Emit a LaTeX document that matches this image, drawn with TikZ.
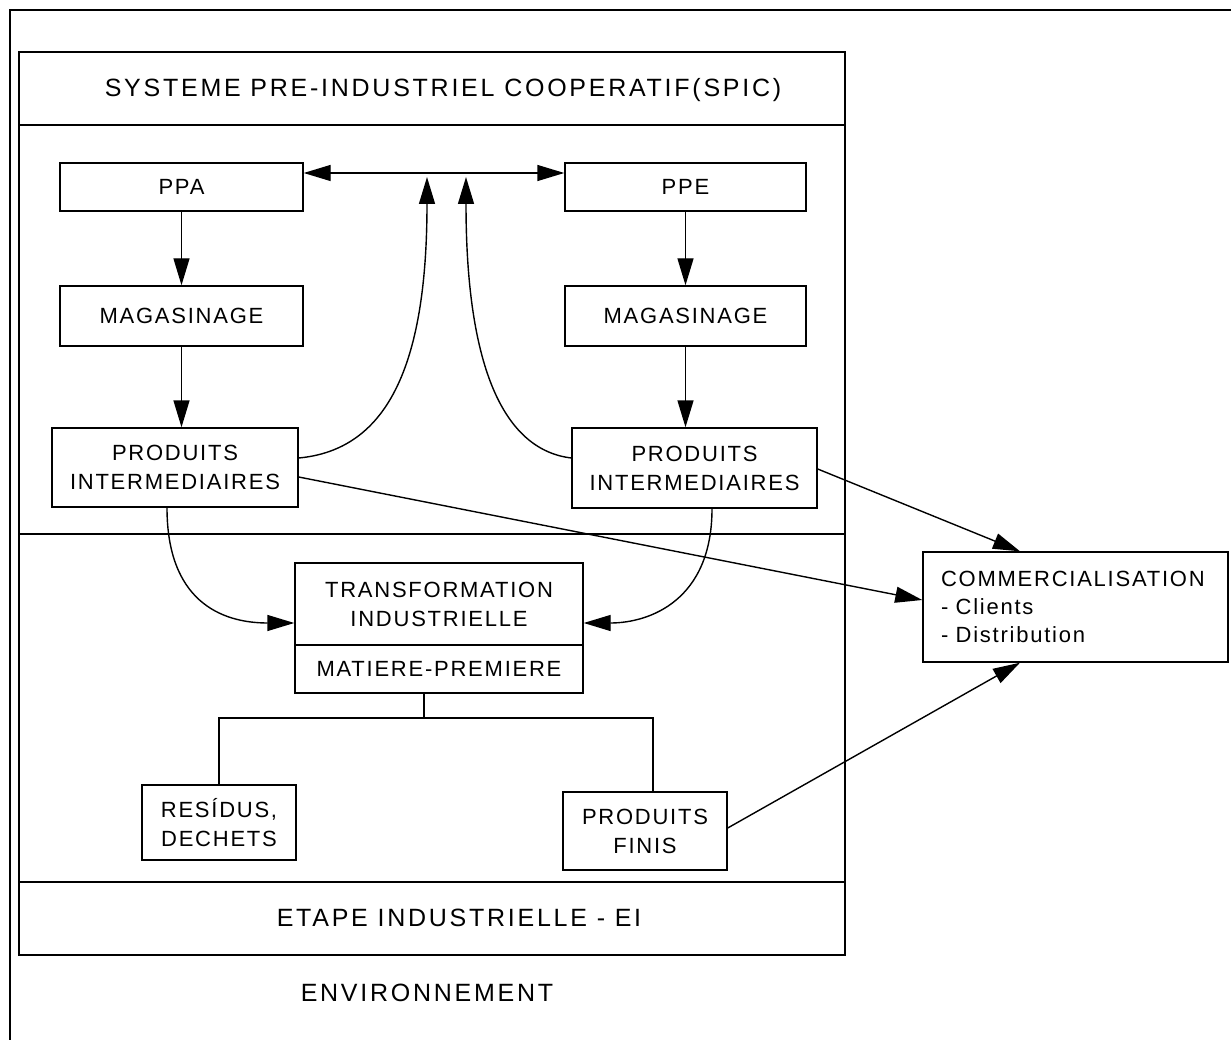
\documentclass[tikz,border=0pt]{standalone}
\usepackage{fontspec}
\setmainfont{Liberation Sans}
\newfontfamily\bodyfont{Liberation Sans}[LetterSpace=8]
\newfontfamily\headfont{Liberation Sans}[LetterSpace=11]
\usetikzlibrary{arrows.meta,calc}
\begin{document}
\begin{tikzpicture}[x=1pt,y=-1pt,
  box/.style={draw,line width=1.4pt,inner sep=0pt,align=center,
    font=\bodyfont\fontsize{22}{29}\selectfont},
  conn/.style={line width=1.4pt,-{Triangle[length=27pt,width=16pt]}},
  plain/.style={line width=1.4pt},
  head/.style={font=\headfont\fontsize{25}{29}\selectfont}]
\useasboundingbox (0,0) rectangle (1231,1040);
% outer frame (environment)
\draw[plain] (10,1045) -- (10,10) -- (1236,10);
% SPIC / EI frame
\draw[plain] (19,52) rectangle (845,955);
\draw[plain] (19,125) -- (845,125);
\draw[plain] (19,534) -- (845,534);
\draw[plain] (19,882) -- (845,882);
% headings
\node[head] (title) at (443,90) {SYSTEME PRE-INDUSTRIEL COOPERATIF(SPIC)};
\node[head] (etape) at (459,918) {ETAPE INDUSTRIELLE - EI};
\node[head] (env) at (427,993) {ENVIRONNEMENT};
% boxes
\node[box,minimum width=243pt,minimum height=48pt] (ppa) at (181.5,187) {PPA};
\node[box,minimum width=241pt,minimum height=48pt] (ppe) at (685.5,187) {PPE};
\node[box,minimum width=243pt,minimum height=60pt] (magL) at (181.5,316) {MAGASINAGE};
\node[box,minimum width=241pt,minimum height=60pt] (magR) at (685.5,316) {MAGASINAGE};
\node[box,minimum width=246pt,minimum height=79pt] (piL) at (175,467.5) {PRODUITS\\INTERMEDIAIRES};
\node[box,minimum width=245pt,minimum height=80pt] (piR) at (694.5,468) {PRODUITS\\INTERMEDIAIRES};
\node[box,minimum width=288pt,minimum height=82pt] (trans) at (439,604) {TRANSFORMATION\\INDUSTRIELLE};
\node[box,minimum width=288pt,minimum height=48pt] (mat) at (439,669) {MATIERE-PREMIERE};
\node[box,minimum width=305pt,minimum height=110pt,text width=269pt,align=left,
  font=\bodyfont\fontsize{22}{28}\selectfont] (comm) at (1075.5,607)
  {COMMERCIALISATION\\- Clients\\- Distribution};
\node[box,minimum width=154pt,minimum height=75pt] (res) at (219,822.5) {RESÍDUS,\\DECHETS};
\node[box,minimum width=164pt,minimum height=78pt] (pf) at (645,831) {PRODUITS\\FINIS};
% coordinates
\coordinate (tipL) at (427,177);
\coordinate (tipR) at (466,177);
\coordinate (jn) at (424,718);
% connectors
\draw[plain,{Triangle[length=27pt,width=16pt]}-{Triangle[length=27pt,width=16pt]}]
  ([yshift=14pt]ppa.east) -- ([yshift=14pt]ppe.west);
\draw[conn] (ppa.south) -- (magL.north);
\draw[conn] (magL.south) -- (magL.south |- piL.north);
\draw[conn] (ppe.south) -- (magR.north);
\draw[conn] (magR.south) -- (magR.south |- piR.north);
\draw[conn] ([yshift=9.5pt]piL.east) .. controls (385,450) and (427,370) .. (tipL);
\draw[conn] ([yshift=10pt]piR.west) .. controls (505,450) and (466,370) .. (tipR);
\draw[conn] ([yshift=-9.5pt]piL.east) -- ([yshift=7pt]comm.west);
\draw[conn] ([yshift=-1pt]piR.east) -- ([xshift=-55.5pt]comm.north);
\draw[conn] ([yshift=3pt]pf.east) -- ([xshift=-55.5pt]comm.south);
\draw[conn] ([xshift=-8pt]piL.south) .. controls (167,600) and (220,623) .. ([yshift=-19pt]trans.west);
\draw[conn] ([xshift=17.5pt]piR.south) .. controls (712,600) and (650,623) .. ([yshift=-19pt]trans.east);
% tree
\draw[plain] (mat.south -| jn) -- (jn);
\draw[plain] (res.north) |- (jn) -| ([xshift=8pt]pf.north);
\end{tikzpicture}
\end{document}
